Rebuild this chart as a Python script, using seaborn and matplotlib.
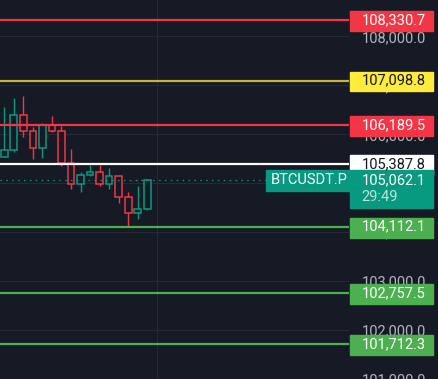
import matplotlib.pyplot as plt
import seaborn as sns
from matplotlib.patches import Rectangle
from matplotlib.ticker import FuncFormatter

# candles (BTCUSDT.P, 16 bars)
opens = [105539, 105679, 106404, 106062, 105720, 106182, 106062, 105411,
         104975, 105176, 105237, 104975, 105156, 104714, 104392, 104472]
highs = [106551, 106752, 106793, 106142, 106229, 106370, 106176, 105706,
         105223, 105364, 105378, 105304, 105156, 104821, 104942, 105083]
lows = [105539, 105646, 105948, 105492, 105512, 106042, 105351, 104888,
        104821, 105150, 104948, 104881, 104606, 104117, 104264, 104445]
closes = [105679, 106404, 106062, 105720, 106182, 106062, 105418, 104975,
          105176, 105237, 104975, 105156, 104714, 104392, 104472, 105062.1]

levels = [108330.7, 107098.8, 106189.5, 105387.8, 104112.1, 102757.5, 101712.3]
level_line_colors = ["#f23645", "#c8b43a", "#f23645", "#ffffff", "#4caf50", "#4caf50", "#4caf50"]
level_box_colors = ["#f23645", "#ffeb3b", "#f23645", "#ffffff", "#4caf50", "#4caf50", "#4caf50"]
level_text_colors = ["white", "#131722", "white", "#131722", "white", "white", "white"]

grid_prices = [101000, 102000, 103000, 104000, 105000, 106000, 107000, 108000]
last_price = 105062.1
countdown = "29:49"
symbol = "BTCUSDT.P"

bg = "#161a25"
up, down = "#089981", "#f23645"

sns.set_theme(style="dark", rc={"axes.facecolor": bg, "figure.facecolor": bg,
                                "grid.color": "#262a35", "axes.edgecolor": bg})
plt.rcParams["font.family"] = ["Roboto", "DejaVu Sans"]

fig = plt.figure(figsize=(4.39, 3.79), dpi=100)
ax = fig.add_axes([0, 0, 349 / 439, 1])
ymin, ymax = 101119, 108745
ax.set_ylim(ymin, ymax)
ax.set_xlim(-0.45, 36.17)
unit_px = 379 / (ymax - ymin)

ax.set_yticks(grid_prices)
ax.set_xticks([16])
ax.grid(True, lw=0.8)
ax.set_axisbelow(True)
ax.yaxis.tick_right()
ax.yaxis.set_major_formatter(FuncFormatter(lambda v, p: f"{v:,.1f}"))
ax.tick_params(axis="y", length=0, pad=9, labelsize=10.5, labelcolor="#b2b5be")
ax.tick_params(axis="x", length=0, labelbottom=False)
for s in ax.spines.values():
    s.set_visible(False)

# candles
idx = list(range(len(opens)))
cols = [up if c >= o else down for o, c in zip(opens, closes)]
ax.vlines(idx, lows, highs, colors=cols, lw=1, zorder=3)
bottoms = [min(o, c) for o, c in zip(opens, closes)]
heights = [max(abs(c - o), 20) for o, c in zip(opens, closes)]
ax.bar(idx, heights, bottom=bottoms, width=0.7, color=bg, edgecolor=cols,
       linewidth=1.1, zorder=4)

# level lines with price boxes
ytr = ax.get_yaxis_transform()
box_h = 20 / unit_px
for lv, lc, bc, tc in zip(levels, level_line_colors, level_box_colors, level_text_colors):
    ax.axhline(lv, color=lc, lw=1.6, zorder=5)
    ax.add_patch(Rectangle((1.003, lv - box_h * 0.55), 83 / 349, box_h, transform=ytr,
                           color=bc, clip_on=False, zorder=6))
    ax.text(1 + 12.7 / 349, lv, f"{lv:,.1f}", transform=ytr, color=tc, fontsize=10.5,
            va="center", ha="left", clip_on=False, zorder=7)

# last price
ax.axhline(last_price, xmax=266 / 349, color=up, lw=0.9, ls=(0, (1.2, 3.5)), zorder=5)
ax.add_patch(Rectangle((1.003, last_price - 28.4 / unit_px), 83 / 349, 39 / unit_px,
                       transform=ytr, color=up, clip_on=False, zorder=6))
ax.text(1 + 12.7 / 349, last_price, f"{last_price:,.1f}", transform=ytr, color="white",
        fontsize=10.5, va="center", ha="left", clip_on=False, zorder=7)
ax.text(1 + 12.7 / 349, last_price - 17.5 / unit_px, countdown, transform=ytr,
        color="#b9e6dd", fontsize=10.5, va="center", ha="left", clip_on=False, zorder=7)
ax.add_patch(Rectangle((266 / 349, last_price - 10.6 / unit_px), 83 / 349, 20.6 / unit_px,
                       transform=ytr, color=up, clip_on=False, zorder=6))
ax.text(271 / 349, last_price, symbol, transform=ytr, color="white", fontsize=10.5,
        va="center", ha="left", clip_on=False, zorder=7)

fig.savefig("out.png", dpi=100, facecolor=bg)
